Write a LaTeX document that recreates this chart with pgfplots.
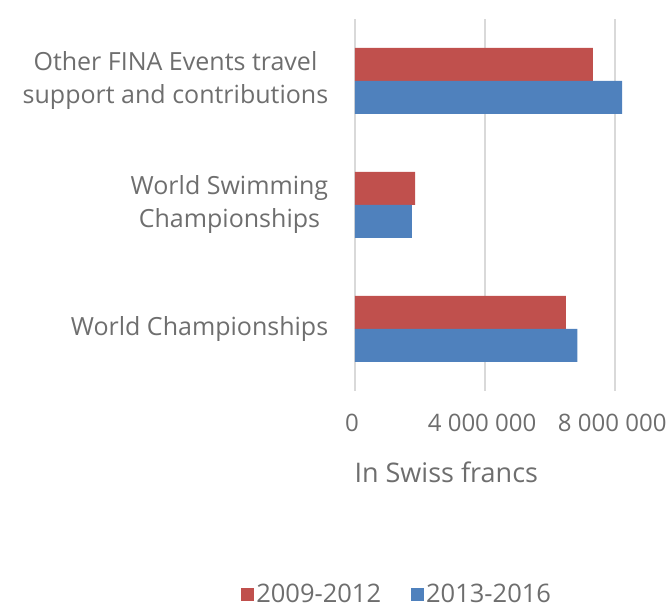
\documentclass[border=0pt]{standalone}
\usepackage{fontspec}
\setmainfont{Open Sans}
\usepackage{pgfplots}
\pgfplotsset{compat=1.18}

\definecolor{redbar}{RGB}{192,80,77}
\definecolor{bluebar}{RGB}{79,129,189}
\definecolor{txtgray}{RGB}{110,110,110}
\definecolor{gridgray}{RGB}{217,217,217}

\begin{document}
\begin{tikzpicture}
\begin{axis}[
    scale only axis,
    width=270pt, height=372pt,
    xmin=0, xmax=8300000,
    ymin=-0.5, ymax=2.5,
    xbar, bar width=33pt,
    axis line style={draw=none},
    tick style={draw=none},
    xmajorgrids, grid style={gridgray, line width=1.5pt},
    xtick={0,4000000,8000000},
    xticklabels={0,4 000 000,8 000 000},
    scaled x ticks=false,
    ytick={0,1,2},
    yticklabels={World Championships,
                 {World Swimming\\Championships},
                 {Other FINA Events travel\\support and contributions}},
    yticklabel style={align=center, text=txtgray, xshift=-19pt,
        font=\fontsize{25}{33}\selectfont},
    xticklabel style={text=txtgray, yshift=-20pt, xshift=-3pt,
        font=\fontsize{24}{33}\selectfont},
    xlabel={In Swiss francs},
    xlabel style={at={(rel axis cs:0,-0.218)}, anchor=west, xshift=-4pt,
        text=txtgray, font=\fontsize{27}{33}\selectfont},
    legend style={draw=none, legend columns=2, at={(0.156,-0.546)}, anchor=center,
        font=\fontsize{25.5}{33}\selectfont, text=txtgray,
        /tikz/every even column/.append style={column sep=28pt}},
    legend image code/.code={\fill[#1,draw=none] (0pt,-6.5pt) rectangle (13pt,6.5pt);},
]
\addplot[fill=redbar, draw=none, bar shift=16.5pt] coordinates {
    (6480000,0) (1850000,1) (7310000,2)
};
\addlegendentry{2009-2012}
\addplot[fill=bluebar, draw=none, bar shift=-16.5pt] coordinates {
    (6840000,0) (1750000,1) (8210000,2)
};
\addlegendentry{2013-2016}
\end{axis}
\pgfresetboundingbox
\path[use as bounding box] (-355pt,-218pt) rectangle (315pt,391pt);
\end{tikzpicture}
\end{document}
